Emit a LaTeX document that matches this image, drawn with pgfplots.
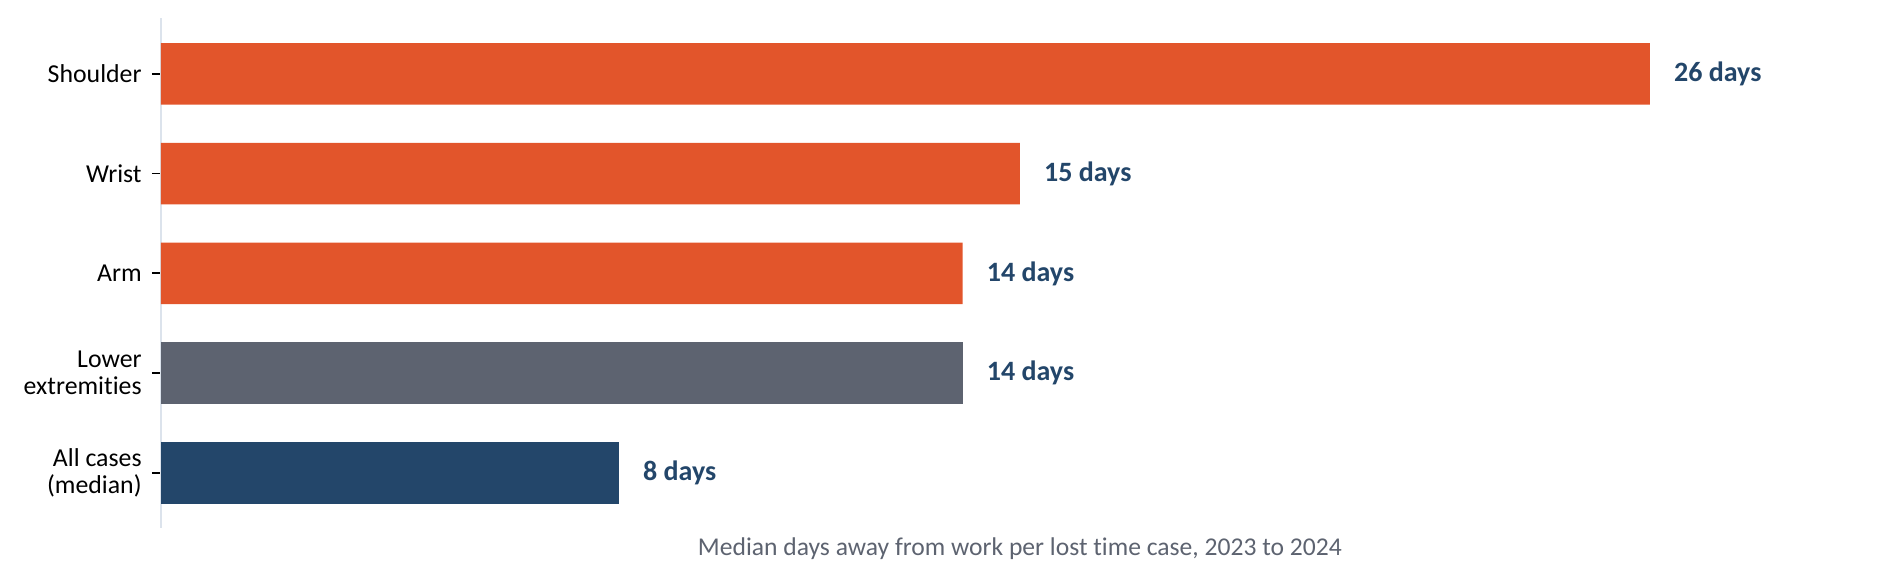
\documentclass[border=0pt]{standalone}
\usepackage{fontspec}
\setmainfont{Carlito}[Ligatures=NoCommon]
\usepackage{pgfplots}
\pgfplotsset{compat=1.18}
\definecolor{barorange}{RGB}{226,85,43}
\definecolor{bargrey}{RGB}{93,99,112}
\definecolor{barnavy}{RGB}{35,70,106}
\definecolor{axisline}{RGB}{220,227,236}
\definecolor{labelgrey}{RGB}{93,99,112}

\begin{document}
\begin{tikzpicture}
\begin{axis}[
  scale only axis,
  width=1718.2pt, height=509.3pt,
  at={(160.8pt,51.3pt)}, anchor=south west,
  xbar, bar width=61.5pt, bar shift=0pt,
  xmin=0, xmax=30,
  ymin=-0.548, ymax=4.555,
  axis y line*=left, axis x line*=bottom,
  x axis line style={draw=none},
  y axis line style={-, draw=axisline, line width=1.8pt},
  xtick=\empty,
  ytick={0,1,2,3,4},
  yticklabels={{All cases\\(median)},{Lower\\extremities},Arm,Wrist,Shoulder},
  tick align=outside, major tick length=9pt,
  ytick style={black, line width=1.8pt},
  yticklabel style={align=right, font=\fontsize{25.8}{27}\selectfont, inner sep=0pt, xshift=-10pt},
  xlabel={Median days away from work per lost time case, 2023 to 2024},
  xlabel style={font=\fontsize{25.6}{28}\selectfont, text=labelgrey, at={(axis description cs:0.5,0)}, anchor=base, yshift=-27.3pt},
  /pgf/number format/assume math mode=true,
  nodes near coords={\pgfmathprintnumber{\pgfplotspointmeta} days},
  point meta=x,
  nodes near coords style={font=\fontsize{28}{30}\selectfont\bfseries, text=barnavy, anchor=west, inner sep=0pt, xshift=24pt},
  clip=false,
]
% categories bottom to top: All cases, Lower extremities, Arm, Wrist, Shoulder
\addplot[fill=barorange, draw=none] coordinates {(26,4) (15,3) (14,2)};
\addplot[fill=bargrey, draw=none] coordinates {(14,1)};
\addplot[fill=barnavy, draw=none] coordinates {(8,0)};
\end{axis}
\pgfresetboundingbox
\path[use as bounding box] (0,0) rectangle (1898pt,579pt);
\end{tikzpicture}
\end{document}
